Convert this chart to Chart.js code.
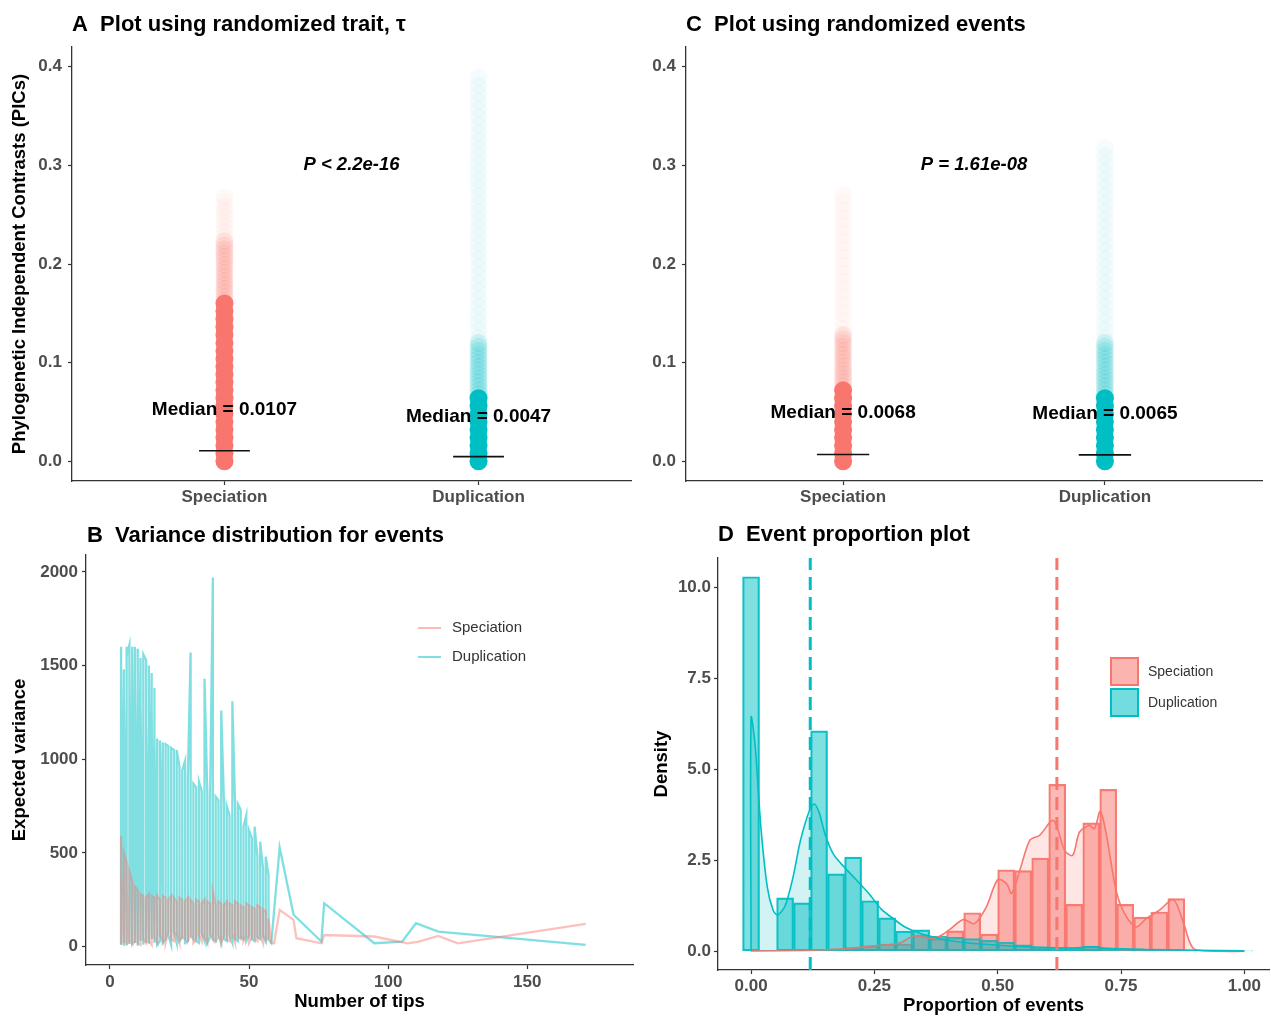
<!DOCTYPE html>
<html>
<head>
<meta charset="utf-8">
<script src="https://cdn.jsdelivr.net/npm/chart.js@4.4.1/dist/chart.umd.min.js"></script>
<style>
  body { margin: 0; background: #fff; }
  #wrap { position: relative; width: 1271px; height: 1017px; overflow: hidden; }
  canvas { position: absolute; }
</style>
</head>
<body>
<div id="wrap">
  <canvas id="pa" width="640" height="510" style="left:0;top:0"></canvas>
  <canvas id="pc" width="631" height="510" style="left:640px;top:0"></canvas>
  <canvas id="pb" width="640" height="507" style="left:0;top:510px"></canvas>
  <canvas id="pd" width="631" height="507" style="left:640px;top:510px"></canvas>
</div>
<script>
// ---------- data ----------
const groups = ['Speciation', 'Duplication'];
const picTicks = [0, 0.1, 0.2, 0.3, 0.4];

// A: randomized trait - PIC values along each strip (dense core, fading part, sparse tail)
const traitSpecCore = [0, 0.008, 0.016, 0.024, 0.032, 0.04, 0.048, 0.056, 0.064, 0.072, 0.08, 0.088, 0.096, 0.104, 0.112, 0.12, 0.128, 0.136, 0.144, 0.152, 0.16];
const traitSpecMid = [0.163, 0.167, 0.171, 0.175, 0.179, 0.183, 0.187, 0.191, 0.195, 0.199, 0.203, 0.207, 0.211, 0.215, 0.219, 0.223];
const traitSpecTail = [0.228, 0.233, 0.238, 0.243, 0.248, 0.253, 0.258, 0.263, 0.268];
const traitDupCore = [0, 0.008, 0.016, 0.024, 0.032, 0.04, 0.048, 0.056, 0.064];
const traitDupMid = [0.068, 0.072, 0.076, 0.08, 0.084, 0.088, 0.092, 0.096, 0.1, 0.104, 0.108, 0.112, 0.116, 0.12];
const traitDupTail = [0.125, 0.133, 0.141, 0.149, 0.157, 0.165, 0.173, 0.181, 0.189, 0.197, 0.205, 0.213, 0.221, 0.229, 0.237, 0.245,
  0.253, 0.261, 0.269, 0.277, 0.285, 0.293, 0.301, 0.309, 0.317, 0.325, 0.333, 0.341, 0.349, 0.357, 0.365, 0.373, 0.381, 0.389];
const traitMedians = [0.0107, 0.0047];
const traitP = 'P < 2.2e-16';

// C: randomized events
const eventSpecCore = [0, 0.008, 0.016, 0.024, 0.032, 0.04, 0.048, 0.056, 0.064, 0.072];
const eventSpecMid = [0.076, 0.08, 0.084, 0.088, 0.092, 0.096, 0.1, 0.104, 0.108, 0.112, 0.116, 0.12, 0.124, 0.128];
const eventSpecTail = [0.134, 0.142, 0.15, 0.158, 0.166, 0.174, 0.182, 0.19, 0.198, 0.206, 0.214, 0.222, 0.23, 0.238, 0.246, 0.254, 0.262, 0.27];
const eventDupCore = [0, 0.008, 0.016, 0.024, 0.032, 0.04, 0.048, 0.056, 0.064];
const eventDupMid = [0.068, 0.072, 0.076, 0.08, 0.084, 0.088, 0.092, 0.096, 0.1, 0.104, 0.108, 0.112, 0.116, 0.12];
const eventDupTail = [0.125, 0.133, 0.141, 0.149, 0.157, 0.165, 0.173, 0.181, 0.189, 0.197, 0.205, 0.213, 0.221, 0.229, 0.237,
  0.245, 0.253, 0.261, 0.269, 0.277, 0.285, 0.293, 0.301, 0.309, 0.317];
const eventMedians = [0.0068, 0.0065];
const eventP = 'P = 1.61e-08';

// B: [number of tips, expected variance]
const tipTicks = [0, 50, 100, 150];
const varTicks = [0, 500, 1000, 1500, 2000];
const dupVariance = [
  [4,10],[4,1600],[4,20],[4,1450],[4,60],[5,1480],[5,5],[5,1350],[6,10],[6,1600],[6,30],[6,1550],[7,1610],[7,15],[7,1500],
  [8,10],[8,1600],[8,40],[9,1600],[9,20],[9,1400],[10,5],[10,1590],[10,50],[11,1540],[11,30],[11,1300],[12,10],[12,1560],
  [13,1530],[13,20],[13,1200],[14,15],[14,1500],[14,60],[15,1460],[15,40],[15,1250],[16,20],[16,1380],[16,100],[17,1110],[17,10],
  [18,30],[18,1100],[18,200],[19,1090],[19,20],[20,40],[20,1080],[21,1070],[21,60],[22,10],[22,1060],
  [23,1050],[23,80],[24,20],[24,1050],[25,960],[25,30],[26,50],[26,940],[27,990],[27,20],[28,30],[28,900],
  [29,1570],[29,60],[30,40],[30,870],[31,850],[31,30],[32,20],[32,880],[33,830],[33,70],[34,30],[34,1430],
  [35,820],[35,20],[36,50],[36,790],[37,1970],[37,40],[38,30],[38,800],[39,780],[39,60],[40,20],[40,1260],
  [41,760],[41,40],[42,30],[42,750],[43,700],[43,60],[44,20],[44,1310],[45,740],[45,40],[46,30],[46,760],
  [47,730],[47,50],[48,40],[48,640],[49,700],[49,30],[50,60],[50,620],[51,580],[51,40],[52,30],[52,640],
  [53,480],[53,50],[54,40],[54,560],[55,420],[55,60],[56,30],[56,480],[57,380],[57,40],[58,20],
  [61,530],[66,170],[76,27],[77,232],[95,18],[105,27],[110,125],[118,80],[171,9]
];
const specVariance = [
  [4,590],[4,10],[4,400],[5,20],[5,500],[6,450],[6,5],[6,300],[7,15],[7,400],[8,350],[8,10],[9,30],[9,320],
  [10,300],[10,20],[11,10],[11,280],[12,270],[12,40],[13,20],[13,260],[14,280],[14,30],[15,10],[15,270],
  [16,260],[16,50],[17,20],[17,270],[18,250],[18,60],[19,30],[19,270],[20,260],[20,20],[21,80],[21,250],
  [22,270],[22,40],[23,30],[23,260],[24,240],[24,70],[25,20],[25,260],[26,250],[26,50],[27,40],[27,240],
  [28,260],[28,30],[29,60],[29,250],[30,230],[30,20],[31,40],[31,250],[32,240],[32,60],[33,30],[33,230],
  [34,250],[34,50],[35,20],[35,240],[36,230],[36,70],[37,40],[37,290],[38,220],[38,30],[39,50],[39,240],
  [40,230],[40,20],[41,60],[41,220],[42,240],[42,40],[43,30],[43,230],[44,220],[44,70],[45,20],[45,240],
  [46,230],[46,50],[47,40],[47,220],[48,210],[48,30],[49,60],[49,230],[50,220],[50,20],[51,50],[51,210],
  [52,200],[52,40],[53,30],[53,220],[54,210],[54,60],[55,20],[55,200],[56,190],[56,30],[57,50],[57,150],
  [58,20],[59,18],[61,196],[66,143],[67,45],[76,18],[77,62],[95,54],[107,18],[111,27],[118,57],[125,18],[171,121]
];

// D: histogram (bin centres), density curves and dashed reference lines
const propTicks = [0, 0.25, 0.5, 0.75, 1];
const densTicks = [0, 2.5, 5, 7.5, 10];
const binCenters = [0, 0.0345, 0.069, 0.1034, 0.1379, 0.1724, 0.2069, 0.2414, 0.2759, 0.3103, 0.3448, 0.3793, 0.4138, 0.4483, 0.4828,
  0.5172, 0.5517, 0.5862, 0.6207, 0.6552, 0.6897, 0.7241, 0.7586, 0.7931, 0.8276, 0.8621, 0.8966, 0.931, 0.9655, 1.0];
const specHist = [0, 0, 0.02, 0.02, 0.04, 0.05, 0.1, 0.15, 0.2, 0.2, 0.45, 0.35, 0.56, 1.06, 0.47,
  2.24, 2.22, 2.56, 4.59, 1.29, 3.53, 4.45, 1.29, 0.94, 1.08, 1.45, 0.03, 0, 0, 0];
const dupHist = [10.3, 0, 1.47, 1.33, 6.06, 2.13, 2.59, 1.39, 0.92, 0.55, 0.59, 0.42, 0.38, 0.35, 0.3,
  0.25, 0.18, 0.12, 0.1, 0.1, 0.14, 0.06, 0.04, 0.03, 0.03, 0.02, 0.02, 0.02, 0.01, 0.01];
const dupDensX = [0, 0, 0.008, 0.02, 0.033, 0.045, 0.054, 0.069, 0.085, 0.1, 0.118, 0.128, 0.138, 0.15, 0.167, 0.19, 0.215, 0.24,
  0.264, 0.289, 0.313, 0.345, 0.386, 0.427, 0.467, 0.508, 0.549, 0.6, 0.65, 0.69, 0.72, 0.8, 0.9, 1.0];
const dupDensY = [0, 6.43, 5.7, 3.4, 1.76, 1.12, 1.0, 1.25, 2.03, 3.04, 3.86, 4.05, 3.82, 3.22, 2.67, 2.3, 1.94, 1.57,
  1.16, 0.89, 0.66, 0.48, 0.34, 0.25, 0.2, 0.16, 0.13, 0.1, 0.09, 0.12, 0.08, 0.05, 0.03, 0.01];
const specDensX = [0, 0.1, 0.15, 0.2, 0.25, 0.3, 0.33, 0.36, 0.38, 0.403, 0.43, 0.453, 0.477, 0.5, 0.518, 0.528, 0.545, 0.565, 0.585,
  0.613, 0.636, 0.652, 0.666, 0.686, 0.696, 0.708, 0.72, 0.74, 0.757, 0.781, 0.801, 0.828, 0.856, 0.875, 0.889, 0.9, 0.95, 1.0];
const specDensY = [0.01, 0.02, 0.04, 0.08, 0.15, 0.22, 0.42, 0.36, 0.4, 0.6, 0.87, 0.76, 1.22, 1.97, 1.86, 1.59, 2.23, 3.05, 3.19,
  3.6, 2.77, 2.64, 3.28, 3.46, 3.37, 3.85, 3.23, 1.68, 1.04, 0.67, 0.9, 1.13, 1.42, 0.85, 0.26, 0.05, 0, 0];
const propLines = [0.62, 0.12];   // Speciation, Duplication

// ---------- styling helpers ----------
const FONT = '"Liberation Sans", Arial, Helvetica, sans-serif';
const SPEC = '248,118,109', DUP = '0,191,196';
const rgba = (c, a) => `rgba(${c},${a})`;

function makeAxis(o) {
  return {
    type: 'linear', min: o.min, max: o.max, offset: false,
    afterBuildTicks: s => { s.ticks = o.ticks.map(v => ({ value: v })); },
    afterFit: o.fit,
    ticks: { callback: o.fmt, color: '#4D4D4D', padding: o.pad, autoSkip: false, maxRotation: 0,
             font: { family: FONT, size: 17, weight: 'bold' } },
    grid: { display: true, drawOnChartArea: false, drawTicks: true, tickLength: 4,
            tickColor: '#333', tickWidth: 1.2, offset: false },
    border: { display: true, color: '#333', width: 1.3 },
    title: o.title ? { display: true, text: o.title, color: '#000', padding: o.titlePad,
                       font: { family: FONT, size: 18.5, weight: 'bold' } } : { display: false }
  };
}

function baseOptions(W, area) {
  return {
    responsive: false, animation: false, events: [],
    layout: { padding: { top: area.top, right: W - area.right, left: 0, bottom: 0 } },
    plugins: { legend: { display: false }, tooltip: { enabled: false } }
  };
}

function drawTitle(ctx, text, x, y) {
  ctx.save();
  ctx.fillStyle = '#000';
  ctx.font = `bold 22px ${FONT}`;
  ctx.textAlign = 'left';
  ctx.textBaseline = 'alphabetic';
  ctx.fillText(text, x, y);
  ctx.restore();
}

// ---------- A and C: strip plots ----------
function stripPanel(id, W, H, area, strips, medians, labelY, pText, title, titleX, yTitle, yPad) {
  const datasets = [];
  strips.forEach((s, i) => {
    const col = i === 0 ? SPEC : DUP;
    const x = i + 1;
    [[s[0], 1], [s[1], 0.15], [s[2], 0.04]].forEach(([vals, a]) => datasets.push({
      type: 'scatter', data: vals.map(v => ({ x: x, y: v })),
      pointRadius: 9, pointHoverRadius: 9, borderWidth: 0, backgroundColor: rgba(col, a), order: 5
    }));
    datasets.push({
      type: 'line', data: [{ x: x - 0.1, y: medians[i] }, { x: x + 0.1, y: medians[i] }],
      borderColor: '#111', borderWidth: 1.6, pointRadius: 0, order: 1
    });
  });
  const options = baseOptions(W, area);
  options.scales = {
    x: makeAxis({ min: 0.4, max: 2.6, ticks: [1, 2], fmt: v => groups[v - 1], pad: 2,
                  fit: s => { s.height = H - area.bottom; } }),
    y: makeAxis({ min: -0.02, max: 0.42, ticks: picTicks, fmt: v => v.toFixed(1), pad: yPad,
                  fit: s => { s.width = area.left; }, title: yTitle, titlePad: { top: 9, bottom: 0 } })
  };
  new Chart(document.getElementById(id), {
    type: 'scatter', data: { datasets }, options,
    plugins: [{
      id: 'notes',
      afterDatasetsDraw(chart) {
        const { ctx, scales: { x, y } } = chart;
        ctx.save();
        ctx.fillStyle = '#000';
        ctx.textAlign = 'center';
        ctx.textBaseline = 'middle';
        ctx.font = `bold 19px ${FONT}`;
        medians.forEach((m, i) => ctx.fillText('Median = ' + m.toFixed(4),
          x.getPixelForValue(i + 1), y.getPixelForValue(labelY[i])));
        ctx.font = `italic bold 18.5px ${FONT}`;
        ctx.fillText(pText, x.getPixelForValue(1.5), y.getPixelForValue(0.3));
        ctx.restore();
      },
      afterDraw(chart) { drawTitle(chart.ctx, title, titleX, 31); }
    }]
  });
}

stripPanel('pa', 640, 510, { left: 72, top: 47, right: 633, bottom: 481 },
  [[traitSpecCore, traitSpecMid, traitSpecTail], [traitDupCore, traitDupMid, traitDupTail]],
  traitMedians, [0.0527, 0.0456], traitP, 'A  Plot using randomized trait, \u03C4', 72,
  'Phylogenetic Independent Contrasts (PICs)', 6);

stripPanel('pc', 631, 510, { left: 46, top: 47, right: 631, bottom: 481 },
  [[eventSpecCore, eventSpecMid, eventSpecTail], [eventDupCore, eventDupMid, eventDupTail]],
  eventMedians, [0.0487, 0.0477], eventP, 'C  Plot using randomized events', 46, null, 6);

// ---------- B: variance vs number of tips ----------
(function () {
  const W = 640, H = 507, area = { left: 86, top: 45, right: 633, bottom: 455 };
  const options = baseOptions(W, area);
  options.scales = {
    x: makeAxis({ min: -8.6, max: 188, ticks: tipTicks, fmt: v => String(v), pad: 3,
                  fit: s => { s.height = H - area.bottom; }, title: 'Number of tips', titlePad: { top: 0, bottom: 4 } }),
    y: makeAxis({ min: -98, max: 2090, ticks: varTicks, fmt: v => String(v), pad: 4,
                  fit: s => { s.width = area.left; }, title: 'Expected variance', titlePad: { top: 9, bottom: 0 } })
  };
  new Chart(document.getElementById('pb'), {
    type: 'line',
    data: {
      datasets: [
        { label: 'Speciation', data: specVariance.map(p => ({ x: p[0], y: p[1] })),
          borderColor: rgba(SPEC, 0.45), borderWidth: 2.3, pointRadius: 0, tension: 0, order: 1 },
        { label: 'Duplication', data: dupVariance.map(p => ({ x: p[0], y: p[1] })),
          borderColor: rgba(DUP, 0.5), borderWidth: 2.3, pointRadius: 0, tension: 0, order: 2 }
      ]
    },
    options,
    plugins: [{
      id: 'legendB',
      afterDatasetsDraw(chart) {
        const ctx = chart.ctx;
        ctx.save();
        ctx.font = `15px ${FONT}`;
        ctx.textBaseline = 'middle';
        [[SPEC, 'Speciation', 118], [DUP, 'Duplication', 147]].forEach(([c, t, yy]) => {
          ctx.strokeStyle = rgba(c, 0.5);
          ctx.lineWidth = 2;
          ctx.beginPath(); ctx.moveTo(418, yy); ctx.lineTo(441, yy); ctx.stroke();
          ctx.fillStyle = '#333';
          ctx.fillText(t, 452, yy);
        });
        ctx.restore();
      },
      afterDraw(chart) { drawTitle(chart.ctx, 'B  Variance distribution for events', 87, 32); }
    }]
  });
})();

// ---------- D: event proportion histogram ----------
(function () {
  const W = 631, H = 507, area = { left: 78, top: 48, right: 629, bottom: 460 };
  const options = baseOptions(W, area);
  options.scales = {
    x: makeAxis({ min: -0.067, max: 1.05, ticks: propTicks, fmt: v => v.toFixed(2), pad: 2,
                  fit: s => { s.height = H - area.bottom; }, title: 'Proportion of events', titlePad: { top: 0, bottom: 0 } }),
    y: makeAxis({ min: -0.515, max: 10.815, ticks: densTicks, fmt: v => v.toFixed(1), pad: 3,
                  fit: s => { s.width = area.left; }, title: 'Density', titlePad: { top: 11, bottom: 0 } })
  };
  const bar = (vals, c, order) => ({
    type: 'bar', data: binCenters.map((b, i) => ({ x: b, y: vals[i] })), grouped: false,
    barPercentage: 1, categoryPercentage: 1, backgroundColor: rgba(c, 0.5), borderColor: rgba(c, 0.95),
    borderWidth: 1.5, borderSkipped: false, order
  });
  const dens = (xs, ys, c, order) => ({
    type: 'line', data: xs.map((v, i) => ({ x: v, y: ys[i] })), fill: 'origin',
    backgroundColor: rgba(c, 0.18), borderColor: rgba(c, 1), borderWidth: 1.6, pointRadius: 0, tension: 0.3, order
  });
  new Chart(document.getElementById('pd'), {
    type: 'bar',
    data: {
      datasets: [
        dens(dupDensX, dupDensY, DUP, 1),
        dens(specDensX, specDensY, SPEC, 2),
        bar(dupHist, DUP, 3),
        bar(specHist, SPEC, 4)
      ]
    },
    options,
    plugins: [{
      id: 'marksD',
      afterDatasetsDraw(chart) {
        const { ctx, chartArea, scales: { x } } = chart;
        ctx.save();
        ctx.lineWidth = 3;
        ctx.setLineDash([13, 7]);
        [[propLines[0], SPEC], [propLines[1], DUP]].forEach(([v, c]) => {
          const px = x.getPixelForValue(v);
          ctx.strokeStyle = rgba(c, 1);
          ctx.beginPath(); ctx.moveTo(px, chartArea.bottom); ctx.lineTo(px, chartArea.top); ctx.stroke();
        });
        ctx.setLineDash([]);
        ctx.font = `14px ${FONT}`;
        ctx.textBaseline = 'middle';
        [[SPEC, 'Speciation', 147], [DUP, 'Duplication', 178]].forEach(([c, t, yy]) => {
          ctx.fillStyle = rgba(c, 0.55);
          ctx.fillRect(471, yy + 1, 27, 27);
          ctx.strokeStyle = rgba(c, 1);
          ctx.lineWidth = 2;
          ctx.strokeRect(471, yy + 1, 27, 27);
          ctx.fillStyle = '#333';
          ctx.fillText(t, 508, yy + 15);
        });
        ctx.restore();
      },
      afterDraw(chart) { drawTitle(chart.ctx, 'D  Event proportion plot', 78, 31); }
    }]
  });
})();
</script>
</body>
</html>
